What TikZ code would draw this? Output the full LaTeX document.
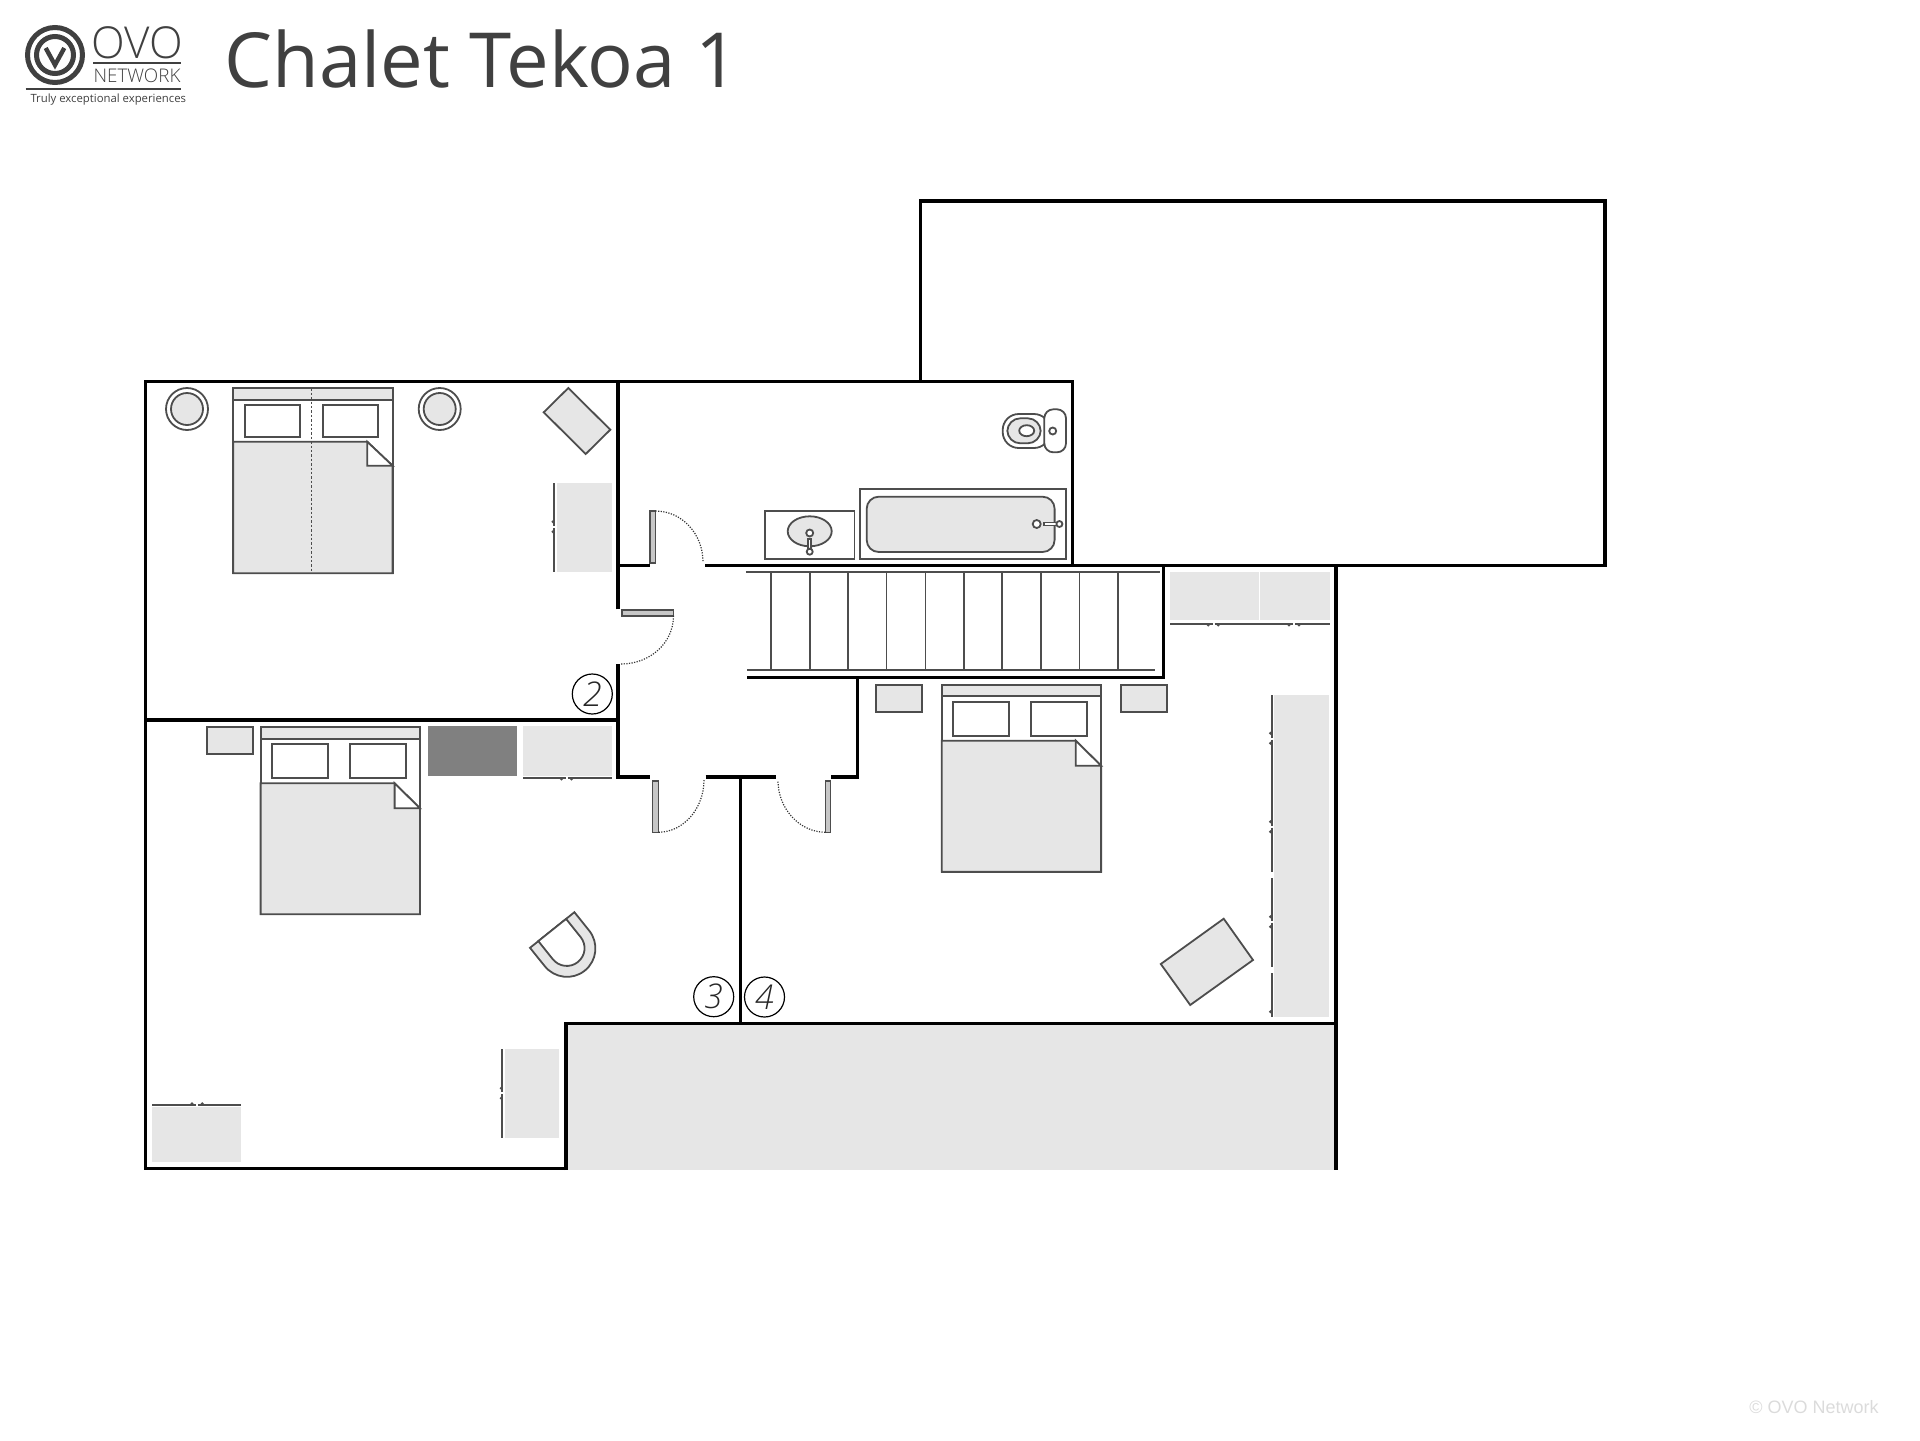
\documentclass[tikz,border=0pt]{standalone}
\usepackage{fontspec}
\setmainfont{Open Sans}
\newfontfamily\lightfont{Open Sans Light}
\newfontfamily\capfont{Liberation Sans}
\definecolor{ovogrey}{HTML}{404040}
\definecolor{furngrey}{HTML}{E6E6E6}
\definecolor{rugdark}{HTML}{808080}
\definecolor{lineg}{HTML}{4D4D4D}
\tikzset{
  wall/.style={draw=black,line width=1.6pt,line join=miter},
  furn/.style={draw=lineg,line width=.9pt,fill=furngrey},
  plain/.style={draw=lineg,line width=.9pt,fill=white},
  leaf/.style={draw=lineg,line width=.8pt,fill=black!22},
  swing/.style={draw=black!80,line width=.6pt,dash pattern=on .6pt off .7pt},
  robe/.style={fill=furngrey},
  front/.style={draw=lineg,line width=.9pt},
  knob/.style={fill=lineg},
  roomno/.style={draw=black,line width=.6pt,circle,minimum size=20pt,inner sep=0pt,font=\lightfont\fontsize{17}{17}\selectfont\itshape,text=black!85},
  logoline/.style={draw=ovogrey,line width=1pt}
}
% bed: x, y, height, pillow bottom, blanket top, fold bottom
\newcommand{\bedplan}[6]{
  \begin{scope}[shift={(#1,#2)}]
    \draw[plain] (0,0) rectangle (159.4,#3);
    \draw[furn] (0,0) rectangle (159.4,11.6);
    \draw[plain] (11.5,17) rectangle (67,#4);
    \draw[plain] (89.5,17) rectangle (145,#4);
    \draw[furn] (0,#5) -- (134,#5) -- (159.4,#6) -- (159.4,#3) -- (0,#3) -- cycle;
    \draw[plain] (134,#5) -- (159.4,#6) -- (134,#6) -- cycle;
  \end{scope}
}
\begin{document}
\begin{tikzpicture}[x=.5pt,y=-.5pt]
  \useasboundingbox (0,0) rectangle (1920,1440);

  % logo and title
  \draw[ovogrey,line width=2.5pt] (55,55) circle (27.5);
  \draw[ovogrey,line width=2.5pt] (55,55) circle (18.5);
  \draw[ovogrey,line width=2.2pt] (45.7,48) -- (55,65) -- (64.3,48);
  \draw[logoline] (93,62.7) -- (181,62.7);
  \draw[logoline] (25.7,88.7) -- (181,88.7);
  \node[anchor=base,inner sep=0pt,text=ovogrey,font=\lightfont\fontsize{22}{22}\selectfont] (ovo) at (137,58) {OVO};
  \node[anchor=base,inner sep=0pt,text=ovogrey,font=\lightfont\fontsize{9.4}{9.4}\selectfont] (network) at (137,82.7) {NETWORK};
  \node[anchor=base,inner sep=0pt,text=ovogrey,font=\fontsize{5.67}{5.67}\selectfont] (tagline) at (108.3,102) {Truly exceptional experiences};
  \node[anchor=base west,inner sep=0pt,text=ovogrey,font=\fontsize{38}{38}\selectfont] (title) at (224,87) {Chalet Tekoa 1};
  \node[anchor=base east,inner sep=0pt,text=black!14,font=\capfont\fontsize{9}{9}\selectfont] (copyright) at (1879,1413) {© OVO Network};

  % roof void
  \fill[furngrey] (566,1023.3) rectangle (1336,1170);

  % walls
  \draw[wall] (618,609.3) -- (618,381.5) -- (1072.6,381.5) -- (1072.6,565.7);
  \draw[wall] (920.8,381.5) -- (920.8,201) -- (1605,201) -- (1605,565.7) -- (704.5,565.7);
  \draw[wall] (649.8,565.7) -- (618,565.7);
  \draw[wall] (618,664.3) -- (618,776.9) -- (650.4,776.9);
  \draw[wall] (705.5,776.9) -- (776,776.9);
  \draw[wall] (831,776.9) -- (857.5,776.9) -- (857.5,677.3);
  \draw[wall] (747,677.3) -- (1163.7,677.3) -- (1163.7,565.7);
  \draw[wall] (1336,565.7) -- (1336,1170);
  \draw[wall] (566,1170) -- (566,1023.3) -- (1336,1023.3);
  \draw[wall] (740.2,776.9) -- (740.2,1023.3);
  \draw[wall] (618,720) -- (145.5,720);
  \draw[wall] (618,381.5) -- (145.5,381.5) -- (145.5,1168.3) -- (566,1168.3);

  % doors
  \draw[leaf] (650,511) rectangle (655.5,562.7);
  \draw[swing] (655.5,511) .. controls (682,511) and (703,534) .. (703,562);
  \draw[leaf] (621.8,609.7) rectangle (673.5,615.7);
  \draw[swing] (673.5,615.7) .. controls (673.5,643) and (650,664) .. (621,664);
  \draw[leaf] (652.4,780.7) rectangle (658.6,832.3);
  \draw[swing] (658.6,832.3) .. controls (684,832) and (704,808) .. (704,780);
  \draw[leaf] (825.3,780.7) rectangle (830.6,832.3);
  \draw[swing] (825.3,832.3) .. controls (799,832) and (778,808) .. (778,781);

  % stairs
  \draw[lineg,line width=1pt] (745.8,571.7) -- (1159.5,571.7);
  \draw[lineg,line width=1pt] (747,669.7) -- (1154.5,669.7);
  \draw[lineg,line width=.8pt] (771,571.7) -- (771,669.7) (809.7,571.7) -- (809.7,669.7)
    (848,571.7) -- (848,669.7) (886.6,571.7) -- (886.6,669.7) (925.3,571.7) -- (925.3,669.7)
    (964,571.7) -- (964,669.7) (1002.2,571.7) -- (1002.2,669.7) (1040.9,571.7) -- (1040.9,669.7)
    (1079.5,571.7) -- (1079.5,669.7) (1117.8,571.7) -- (1117.8,669.7);

  % bathroom
  \draw[plain] (860.2,489) rectangle (1065.7,559);
  \draw[furn,rounded corners=6pt] (866.7,496.7) rectangle (1054.6,552);
  \draw[plain] (1044,522.5) rectangle (1058,525.5);
  \draw[plain] (1036.7,524) circle (4);
  \draw[plain] (1059.4,524) circle (3);
  \draw[plain] (765,511.3) rectangle (854.5,559.3);
  \draw[furn] (809.7,531.3) ellipse (22 and 15);
  \draw[plain] (808.2,539) rectangle (811.2,551);
  \draw[plain] (809.7,533) circle (3.5);
  \draw[plain] (809.7,551.7) circle (3);
  \draw[plain,rounded corners=8pt] (1002.7,414) rectangle (1050,448);
  \draw[furn,rounded corners=6.5pt] (1007.3,418.3) rectangle (1040.7,443.3);
  \draw[plain] (1026.7,430.7) ellipse (7.5 and 5.5);
  \draw[plain,rounded corners=4.5pt] (1044.3,409.3) rectangle (1066,452.3);
  \draw[plain] (1052.7,431) circle (3.5);

  % room 2
  \draw[plain] (187,409) circle (21);
  \draw[furn] (187,409) circle (16);
  \draw[plain] (439.7,409) circle (21);
  \draw[furn] (439.7,409) circle (16);
  \bedplan{233.2}{388.3}{185}{48.7}{53.4}{77.4}
  \draw[lineg,line width=.7pt,dash pattern=on 1.2pt off 1pt] (311.3,388.3) -- (311.3,573.3);
  \draw[furn] (568.3,388) -- (610.3,429.7) -- (585.7,454) -- (543.7,412.3) -- cycle;
  \fill[robe] (557.3,483.3) rectangle (611.7,571.7);
  \draw[front] (554,483.3) -- (554,525.5) (554,528) -- (554,571.7);
  \fill[knob] (553,521.7) circle (1.6) (553,531.7) circle (1.6);
  \node[roomno] (room2) at (592.3,694) {2};

  % room 3
  \draw[furn] (207,727.3) rectangle (253.3,754.3);
  \bedplan{260.6}{727.3}{187}{51}{56}{81}
  \fill[rugdark] (428.4,726) rectangle (517,775.7);
  \fill[robe] (523,726) rectangle (612,776);
  \draw[front] (523,778) -- (565.5,778) (567.5,778) -- (612,778);
  \fill[knob] (561.4,779) circle (1.6) (571.6,779) circle (1.6);
  \draw[furn] (574.4,912.2) -- (589.1,930.5) .. controls (598.95,942.8) and (597.1,960.7) .. (584.8,970.6)
    .. controls (572.5,980.5) and (554.6,978.4) .. (544.7,966.1) -- (530,947.8) -- cycle;
  \draw[plain] (566.1,918.9) -- (580.6,937) .. controls (586.8,944.7) and (585.6,955.8) .. (577.9,962)
    .. controls (570.2,968.2) and (559,966.9) .. (552.8,959.2) -- (538.3,941.1) -- cycle;
  \fill[robe] (152,1106.7) rectangle (240.6,1162.3);
  \draw[front] (152,1104.7) -- (196,1104.7) (198,1104.7) -- (240.6,1104.7);
  \fill[knob] (192,1103.7) circle (1.6) (202.2,1103.7) circle (1.6);
  \fill[robe] (504.7,1049.3) rectangle (559.4,1138);
  \draw[front] (502.2,1049.3) -- (502.2,1092) (502.2,1094) -- (502.2,1138.3);
  \fill[knob] (501.2,1088.3) circle (1.6) (501.2,1098.3) circle (1.6);
  \node[roomno] (room3) at (713.7,996.7) {3};

  % room 4
  \draw[furn] (876,684.7) rectangle (922,712);
  \bedplan{941.7}{684.7}{187}{51}{56}{81}
  \draw[furn] (1120.8,684.7) rectangle (1167,712);
  \draw[furn] (1223.7,918.7) -- (1253,960) -- (1190.2,1005) -- (1160.8,964) -- cycle;
  \fill[robe] (1170,572) rectangle (1258.7,620);
  \fill[robe] (1260.3,572) rectangle (1330,620);
  \draw[front] (1170,623.7) -- (1212.5,623.7) (1214.5,623.7) -- (1293,623.7) (1295,623.7) -- (1330,623.7);
  \fill[knob] (1208.3,625) circle (1.6) (1218.3,625) circle (1.6) (1289,625) circle (1.6) (1299,625) circle (1.6);
  \fill[robe] (1273.5,695) rectangle (1328.6,1016.7);
  \draw[front] (1271.7,695) -- (1271.7,737.5) (1271.7,739.5) -- (1271.7,825.5) (1271.7,827.5) -- (1271.7,871.7)
    (1271.7,878) -- (1271.7,920.5) (1271.7,922.5) -- (1271.7,966.7) (1271.7,973.3) -- (1271.7,1016.7);
  \fill[knob] (1270.5,733.3) circle (1.6) (1270.5,743.3) circle (1.6) (1270.5,821.7) circle (1.6)
    (1270.5,831.7) circle (1.6) (1270.5,916.7) circle (1.6) (1270.5,926.7) circle (1.6) (1270.5,1011.7) circle (1.6);
  \node[roomno] (room4) at (764.5,997) {4};
\end{tikzpicture}
\end{document}
